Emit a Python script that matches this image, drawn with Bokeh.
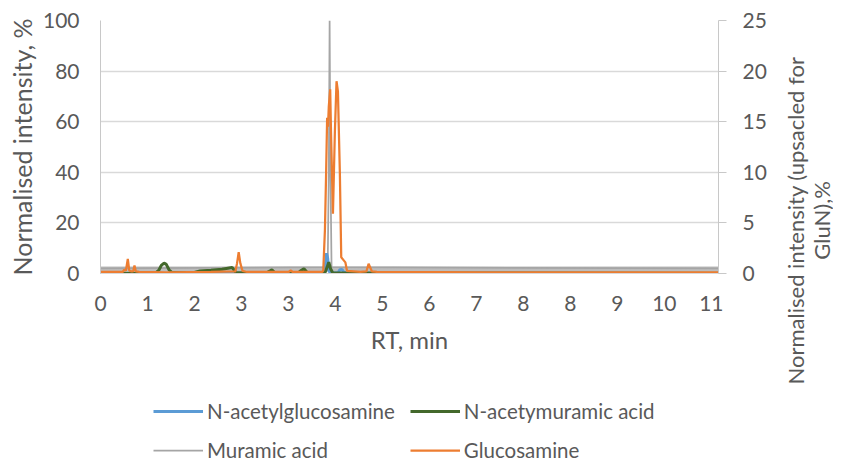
from bokeh.plotting import figure
from bokeh.layouts import row, column
from bokeh.models import Range1d, LinearAxis, FixedTicker, Legend, LegendItem
from bokeh.embed import file_html
from bokeh.resources import INLINE

# ---------------- data ----------------
x_ticks = [0, 0.85, 1.7, 2.55, 3.4, 4.25, 5.1, 5.95, 6.8, 7.65, 8.5, 9.35, 10.2, 11.05]
x_tick_labels = ["0", "1", "2", "3", "3", "4", "5", "6", "7", "8", "8", "9", "10", "11"]
left_ticks = [0, 20, 40, 60, 80, 100]
right_ticks = [0, 5, 10, 15, 20, 25]

# Muramic acid (grey, left axis)
muramic_rt = [0, 4.11, 4.13, 4.145, 4.16, 4.18, 11.18]
muramic = [2.0, 2.5, 40, 100, 40, 2.5, 2.0]
# baseline noise envelope of muramic acid
muramic_noise_rt = [0, 11.18]
muramic_noise_lo = [0.9, 0.9]
muramic_noise_hi = [2.8, 2.8]

# N-acetylglucosamine (blue, left axis)
nag_rt = [0, 4.04, 4.07, 4.09, 4.11, 4.13, 4.16, 4.30, 4.33, 4.37, 4.40, 4.45, 11.18]
nag = [0.1, 0.3, 4.0, 8.0, 6.0, 1.0, 0.3, 0.3, 1.5, 1.6, 0.5, 0.2, 0.1]

# N-acetymuramic acid (green, left axis)
nam_rt = [0, 1.0, 1.06, 1.10, 1.15, 1.19, 1.24, 1.29, 1.7, 1.8, 2.0, 2.2, 2.38, 2.45,
          3.0, 3.06, 3.10, 3.15, 3.58, 3.63, 3.68, 3.74, 4.06, 4.10, 4.13, 4.16, 4.20, 11.18]
nam = [0.1, 0.2, 1.5, 3.2, 4.1, 3.6, 1.5, 0.4, 0.4, 1.0, 1.3, 1.7, 2.4, 0.4,
       0.3, 0.9, 1.5, 0.4, 0.3, 1.2, 1.9, 0.4, 0.3, 2.5, 4.5, 2.0, 0.3, 0.1]

# Glucosamine (orange, right axis)
glu_rt = [0, 0.40, 0.43, 0.45, 0.46, 0.494, 0.52, 0.56, 0.59, 0.615, 0.64, 0.70,
          1.2, 2.0, 2.44, 2.47, 2.50, 2.53, 2.57, 2.65, 3.0, 3.40, 3.44, 3.48, 3.8,
          4.01, 4.03, 4.06, 4.08, 4.10, 4.115, 4.13, 4.155, 4.17, 4.205, 4.24, 4.27,
          4.295, 4.33, 4.355, 4.40, 4.43, 4.46, 4.7, 4.81, 4.85, 4.91, 5.0, 7.0, 9.0, 11.18]
glu = [0.15, 0.15, 0.37, 0.3, 0.3, 1.45, 0.3, 0.2, 0.2, 0.8, 0.2, 0.15,
       0.12, 0.15, 0.2, 1.0, 2.1, 1.0, 0.25, 0.15, 0.15, 0.15, 0.3, 0.15, 0.15,
       0.15, 0.3, 4.3, 9.5, 15.4, 14.5, 16.5, 18.2, 14.0, 5.9, 14.0, 19.0,
       18.0, 10.0, 1.6, 1.3, 1.1, 0.25, 0.15, 0.2, 0.96, 0.2, 0.15, 0.12, 0.12, 0.12]

series_names = ["N-acetylglucosamine", "N-acetymuramic acid", "Muramic acid", "Glucosamine"]
right_title_lines = ["Normalised intensity (upsacled for", "GluN),%"]

# ---------------- styles ----------------
FONT = "Lato"
TXT = "#595959"
AX = "#c8c8c8"
C_NAG, C_NAM, C_MUR, C_GLU = "#5b9bd5", "#43682b", "#a5a5a5", "#ed7d31"
W_NAG, W_NAM, W_MUR, W_GLU = 3, 3, 1.75, 2.25

TOP, FRAME_H, BOTTOM = 20, 253, 97
FRAME_W, LEFT, RIGHT = 618, 100, 60
H_ALL = 462
LEG_H = H_ALL - TOP - FRAME_H - BOTTOM
W2 = 55

# ---------------- main chart ----------------
p = figure(frame_width=FRAME_W, frame_height=FRAME_H, output_backend="svg", toolbar_location=None,
           x_range=Range1d(0, 11.18), y_range=Range1d(0, 100),
           min_border_left=LEFT, min_border_right=RIGHT, min_border_top=TOP, min_border_bottom=BOTTOM)
p.outline_line_color = None
p.background_fill_color = "white"
p.border_fill_color = "white"
p.extra_y_ranges = {"glun": Range1d(0, 25)}

p.xgrid.visible = False
p.ygrid.grid_line_color = "#d9d9d9"
p.ygrid.grid_line_width = 1.5
p.ygrid.ticker = FixedTicker(ticks=left_ticks)

xa = p.xaxis[0]
xa.ticker = FixedTicker(ticks=x_ticks)
xa.major_label_overrides = {t: l for t, l in zip(x_ticks, x_tick_labels)}
xa.axis_label = "RT, min"
xa.axis_line_color = "#d9d9d9"
xa.major_label_standoff = 22
xa.axis_label_standoff = 11

ya = p.yaxis[0]
ya.ticker = FixedTicker(ticks=left_ticks)
ya.axis_label = "Normalised intensity, %"
ya.axis_line_color = AX
ya.major_label_standoff = 21
ya.axis_label_standoff = 3

ra = LinearAxis(y_range_name="glun", ticker=FixedTicker(ticks=right_ticks))
ra.axis_line_color = AX
ra.major_tick_line_color = AX
ra.major_label_standoff = 16
ra.axis_label_standoff = 0
p.add_layout(ra, "right")

for ax in [xa, ya]:
    ax.major_tick_out = 0
    ax.major_tick_in = 0
ra.major_tick_out = 8
ra.major_tick_in = 0
for ax in [xa, ya, ra]:
    ax.minor_tick_out = 0
    ax.minor_tick_in = 0
    ax.major_label_text_font = FONT
    ax.major_label_text_font_size = "21px"
    ax.major_label_text_color = TXT
    ax.axis_label_text_font = FONT
    ax.axis_label_text_font_style = "normal"
    ax.axis_label_text_color = TXT
xa.axis_label_text_font_size = "24px"
ya.axis_label_text_font_size = "25px"

p.varea(x=muramic_noise_rt, y1=muramic_noise_lo, y2=muramic_noise_hi, color="#bdbdbd")
p.line(muramic_rt, muramic, color=C_MUR, line_width=W_MUR)
p.line(nag_rt, nag, color=C_NAG, line_width=W_NAG)
p.line(nam_rt, nam, color=C_NAM, line_width=W_NAM)
p.line(glu_rt, glu, color=C_GLU, line_width=W_GLU, y_range_name="glun")

# ---------------- legend strip (frame aligned with the chart frame) ----------------
p3 = figure(frame_width=FRAME_W, frame_height=LEG_H, output_backend="svg", toolbar_location=None,
            x_axis_location=None, y_axis_location=None,
            x_range=Range1d(1000, 1001), y_range=Range1d(1000, 1001),
            min_border_left=LEFT, min_border_right=RIGHT, min_border_top=0, min_border_bottom=0)
p3.outline_line_color = None
p3.grid.visible = False
p3.background_fill_color = "white"
p3.border_fill_color = "white"
l_nag = p3.line(nag_rt, nag, color=C_NAG, line_width=W_NAG)
l_nam = p3.line(nam_rt, nam, color=C_NAM, line_width=W_NAM)
l_mur = p3.line(muramic_rt, muramic, color=C_MUR, line_width=W_MUR)
l_glu = p3.line(glu_rt, glu, color=C_GLU, line_width=W_GLU)

legend = Legend(items=[LegendItem(label=n, renderers=[r]) for n, r in
                       zip(series_names, [l_nag, l_nam, l_mur, l_glu])],
                location=(53, 0), orientation="horizontal", ncols=2)
legend.padding = 0
legend.margin = 0
legend.spacing = 15
legend.glyph_width = 50
legend.glyph_height = 24
legend.label_height = 24
legend.label_standoff = 4
legend.label_text_font = FONT
legend.label_text_font_size = "20.5px"
legend.label_text_color = TXT
legend.border_line_color = None
legend.background_fill_alpha = 0
p3.add_layout(legend)

# ---------------- right-hand axis title (reads bottom to top) ----------------
p2 = figure(width=W2, height=H_ALL, output_backend="svg", toolbar_location=None,
            x_range=Range1d(0, 1), y_range=Range1d(0, 1),
            x_axis_location=None, y_axis_location=None,
            min_border_left=0, min_border_right=0, min_border_top=40, min_border_bottom=62)
p2.outline_line_color = None
p2.grid.visible = False
p2.background_fill_color = "white"
p2.border_fill_color = "white"
for text, standoff in [(right_title_lines[1], -4), (right_title_lines[0], -4)]:
    t_ax = LinearAxis(ticker=FixedTicker(ticks=[]), axis_label=text)
    t_ax.axis_line_color = None
    t_ax.major_tick_out = 0
    t_ax.major_tick_in = 0
    t_ax.minor_tick_out = 0
    t_ax.minor_tick_in = 0
    t_ax.major_label_standoff = 0
    t_ax.axis_label_standoff = standoff
    t_ax.axis_label_text_font = FONT
    t_ax.axis_label_text_font_size = "22px"
    t_ax.axis_label_text_font_style = "normal"
    t_ax.axis_label_text_color = TXT
    p2.add_layout(t_ax, "left")

layout = row(column(p, p3, spacing=0), p2, spacing=0)
open("out.html", "w").write(file_html(layout, INLINE))
